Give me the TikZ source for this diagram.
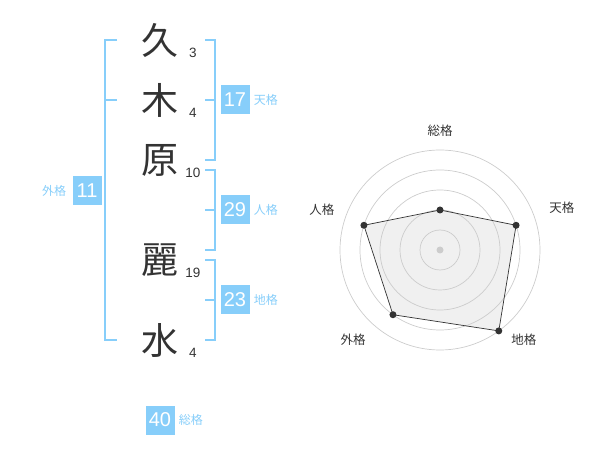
\documentclass[tikz,border=0pt]{standalone}
\usepackage{fontspec}
\setmainfont{Liberation Sans}
\newfontfamily\jpfont{Noto Sans CJK JP}
\usetikzlibrary{calc,positioning}
\definecolor{kakublue}{RGB}{135,206,250}
\definecolor{inkgray}{RGB}{51,51,51}
\definecolor{gridgray}{RGB}{204,204,204}
\definecolor{areagray}{RGB}{240,240,240}

\begin{document}
\begin{tikzpicture}[
  x=1pt, y=-1pt,
  kanji/.style={font=\jpfont\fontsize{37}{37}\selectfont, text=inkgray, inner sep=0pt},
  strokes/.style={font=\fontsize{13.5}{13.5}\selectfont, text=inkgray, inner sep=0pt},
  kaku/.style={fill=kakublue, text=white, minimum width=29pt, minimum height=29pt,
               inner sep=0pt, font=\fontsize{20}{20}\selectfont},
  kakuname/.style={font=\jpfont\fontsize{12}{12}\selectfont, text=kakublue, inner sep=0pt},
  brk/.style={draw=kakublue, line width=2pt},
  axisname/.style={font=\jpfont\fontsize{12.5}{12.5}\selectfont, text=inkgray, inner sep=0pt},
  gridline/.style={draw=gridgray, line width=0.7pt},
  node distance=4pt
]
  \useasboundingbox (0,0) rectangle (600,470);

  % Name characters and stroke counts
  \foreach \i/\c/\y/\s in {1/久/40/3, 2/木/100/4, 3/原/160/10, 4/麗/260/19, 5/水/340/4} {
    \node[kanji] (k\i) at (160,\y) {\c};
    \node[strokes] (s\i) at ($(k\i)+(33,13)$) {\s};
  }

  % Brackets
  \coordinate (lt) at (117,40);  \coordinate (lb) at (117,340);
  \draw[brk] (lt) -- ++(-12,0) |- (lb);
  \draw[brk] (105,100) -- ++(12,0);
  \foreach \n/\ya/\ym/\yb in {ten/40/100/160, jin/170/210/250, chi/260/300/340} {
    \coordinate (\n t) at (205,\ya);
    \coordinate (\n m) at (205,\ym);
    \coordinate (\n b) at (205,\yb);
    \draw[brk] (\n t) -- ++(10,0) |- (\n b);
    \draw[brk] (\n m) -- ++(10,0);
  }

  % Kaku values
  \node[kaku] (ten) at (235,100) {17};
  \node[kakuname, right=of ten] (tenname) {天格};
  \node[kaku] (jin) at (235,210) {29};
  \node[kakuname, right=of jin] (jinname) {人格};
  \node[kaku] (chi) at (235,300) {23};
  \node[kakuname, right=of chi] (chiname) {地格};
  \node[kaku] (gai) at (87,191) {11};
  \node[kakuname, left=6pt of gai] (gainame) {外格};
  \node[kaku] (sou) at (160,420) {40};
  \node[kakuname, right=of sou] (souname) {総格};

  % Radar chart
  \begin{scope}[shift={(440,250)}, yscale=-1]
    \foreach \i/\a/\v in {1/90/40, 2/18/80, 3/-54/100, 4/-126/80, 5/162/80} {
      \coordinate (p\i) at (\a:\v);
    }
    \fill[areagray] (p1) -- (p2) -- (p3) -- (p4) -- (p5) -- cycle;
    \foreach \r in {20,40,...,100} {
      \draw[gridline] (0,0) circle (\r);
    }
    \draw[inkgray, line width=0.7pt] (p1) -- (p2) -- (p3) -- (p4) -- (p5) -- cycle;
    \foreach \i in {1,...,5} {
      \fill[inkgray] (p\i) circle (3.5);
    }
    \fill[gridgray] (0,0) circle (3.5);
    \foreach \i/\a/\r/\t in {1/90/119/総格, 2/19/129/天格, 3/-47/123/地格, 4/-134/125/外格, 5/161/125/人格} {
      \node[axisname] (ax\i) at (\a:\r) {\t};
    }
  \end{scope}
\end{tikzpicture}
\end{document}
